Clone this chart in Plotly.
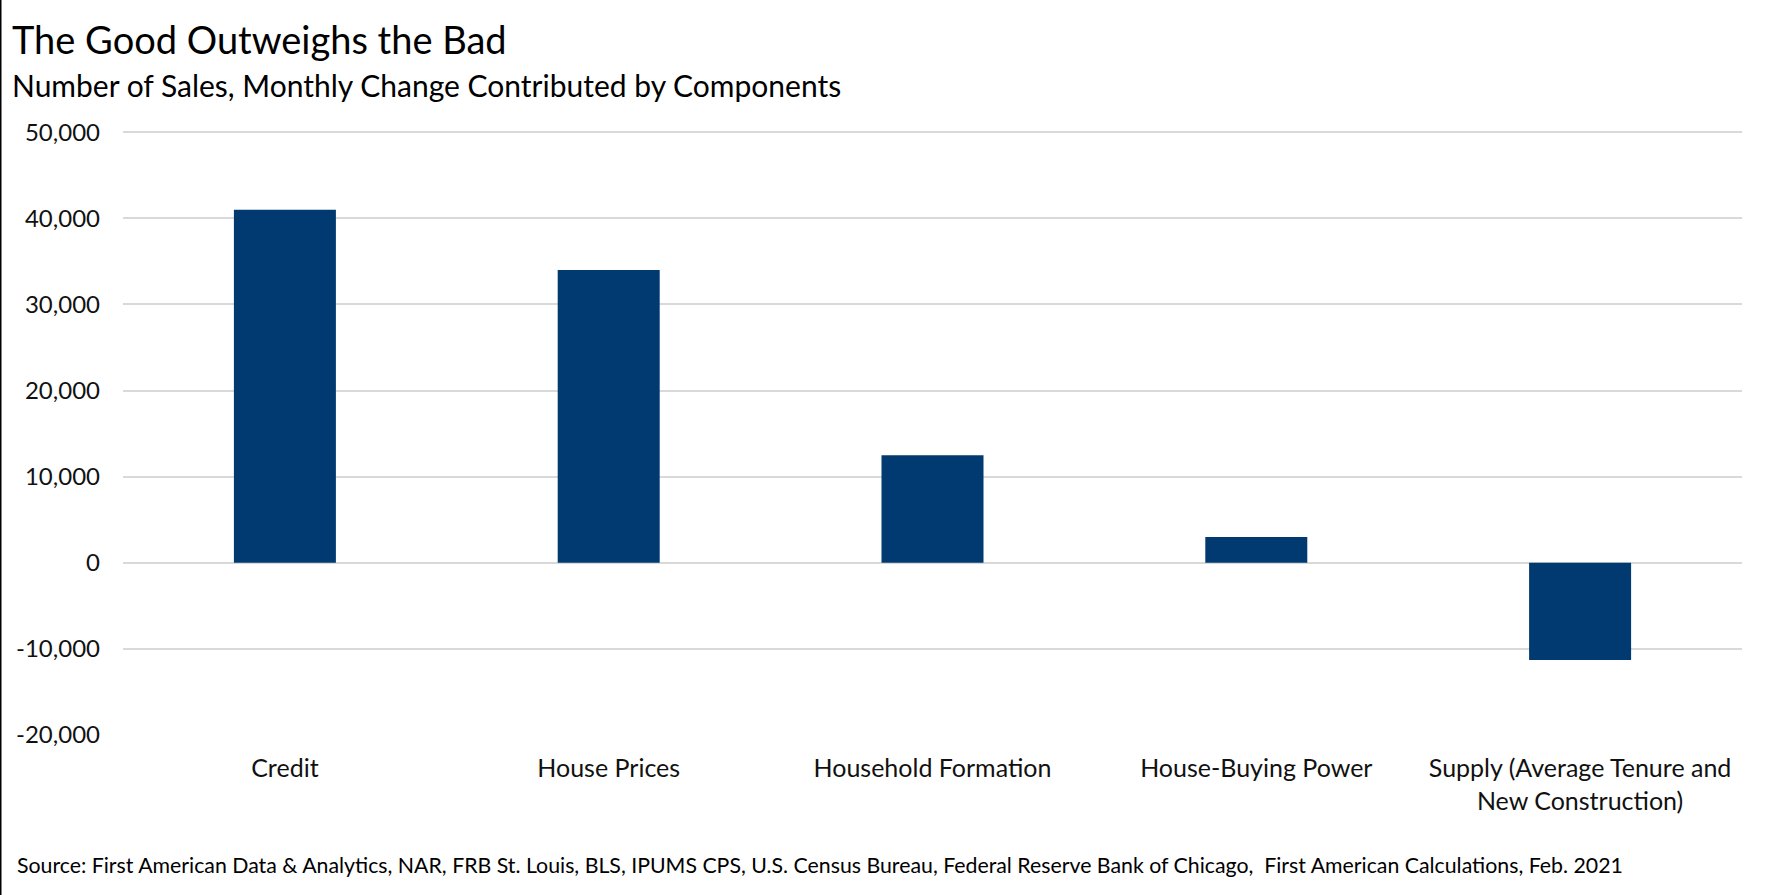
import plotly.graph_objects as go

categories = ["Credit", "House Prices", "Household Formation", "House-Buying Power",
              "Supply (Average Tenure and<br>New Construction)"]
values = [41000, 34000, 12500, 3000, -11300]
y_ticks = [-20000, -10000, 0, 10000, 20000, 30000, 40000, 50000]
y_tick_labels = ["-20,000", "-10,000", "0", "10,000", "20,000", "30,000", "40,000", "50,000"]

title = "The Good Outweighs the Bad"
subtitle = "Number of Sales, Monthly Change Contributed by Components"
source = ("Source: First American Data &amp; Analytics, NAR, FRB St. Louis, BLS, IPUMS CPS, U.S. Census Bureau, "
          "Federal Reserve Bank of Chicago,  First American Calculations, Feb. 2021")

W, H = 1778, 895
y_lo, y_hi = -20000, 50150
L, R, B = 123, 36, 160
T = 131
pw, ph = W - L - R, H - T - B

def px(x):
    return (x - L) / pw

def py(y):
    return (H - B - y) / ph

fig = go.Figure(go.Bar(x=categories, y=values, marker_color="#003A70",
                       marker_line_width=0))

font_main = "Lato, 'Open Sans', sans-serif"
fig.update_layout(
    width=W, height=H,
    margin=dict(l=L, r=R, t=T, b=B),
    paper_bgcolor="white", plot_bgcolor="white",
    bargap=0.685,
    showlegend=False,
    font=dict(family=font_main, color="#000000", size=22),
    xaxis=dict(showgrid=False, showline=False, ticks="", tickfont=dict(size=25, color="#111111"),
               ticklabelstandoff=16),
    yaxis=dict(range=[y_lo, y_hi], tickvals=y_ticks, ticktext=y_tick_labels,
               showgrid=True, gridcolor="#D9D9D9", gridwidth=1.5,
               zeroline=True, zerolinecolor="#D9D9D9", zerolinewidth=1.5,
               showline=False, ticks="", tickfont=dict(size=24, color="#111111"),
               ticklabelstandoff=22),
    annotations=[
        dict(text=title, x=px(10), y=py(39), xref="paper", yref="paper",
             xanchor="left", yanchor="middle", showarrow=False,
             font=dict(size=38, family=font_main, color="#000000")),
        dict(text=subtitle, x=px(10), y=py(85), xref="paper", yref="paper",
             xanchor="left", yanchor="middle", showarrow=False,
             font=dict(size=30, family=font_main, color="#000000")),
        dict(text=source, x=px(15), y=py(865), xref="paper", yref="paper",
             xanchor="left", yanchor="middle", showarrow=False,
             font=dict(size=21.3, family=font_main, color="#000000")),
    ],
    shapes=[dict(type="line", xref="paper", yref="paper", x0=px(0.75), x1=px(0.75),
                 y0=py(H), y1=py(0), line=dict(color="#000000", width=1.5))],
)

fig.write_html("out.html", config={"displayModeBar": False},
               post_script="document.body.style.margin='0';")
